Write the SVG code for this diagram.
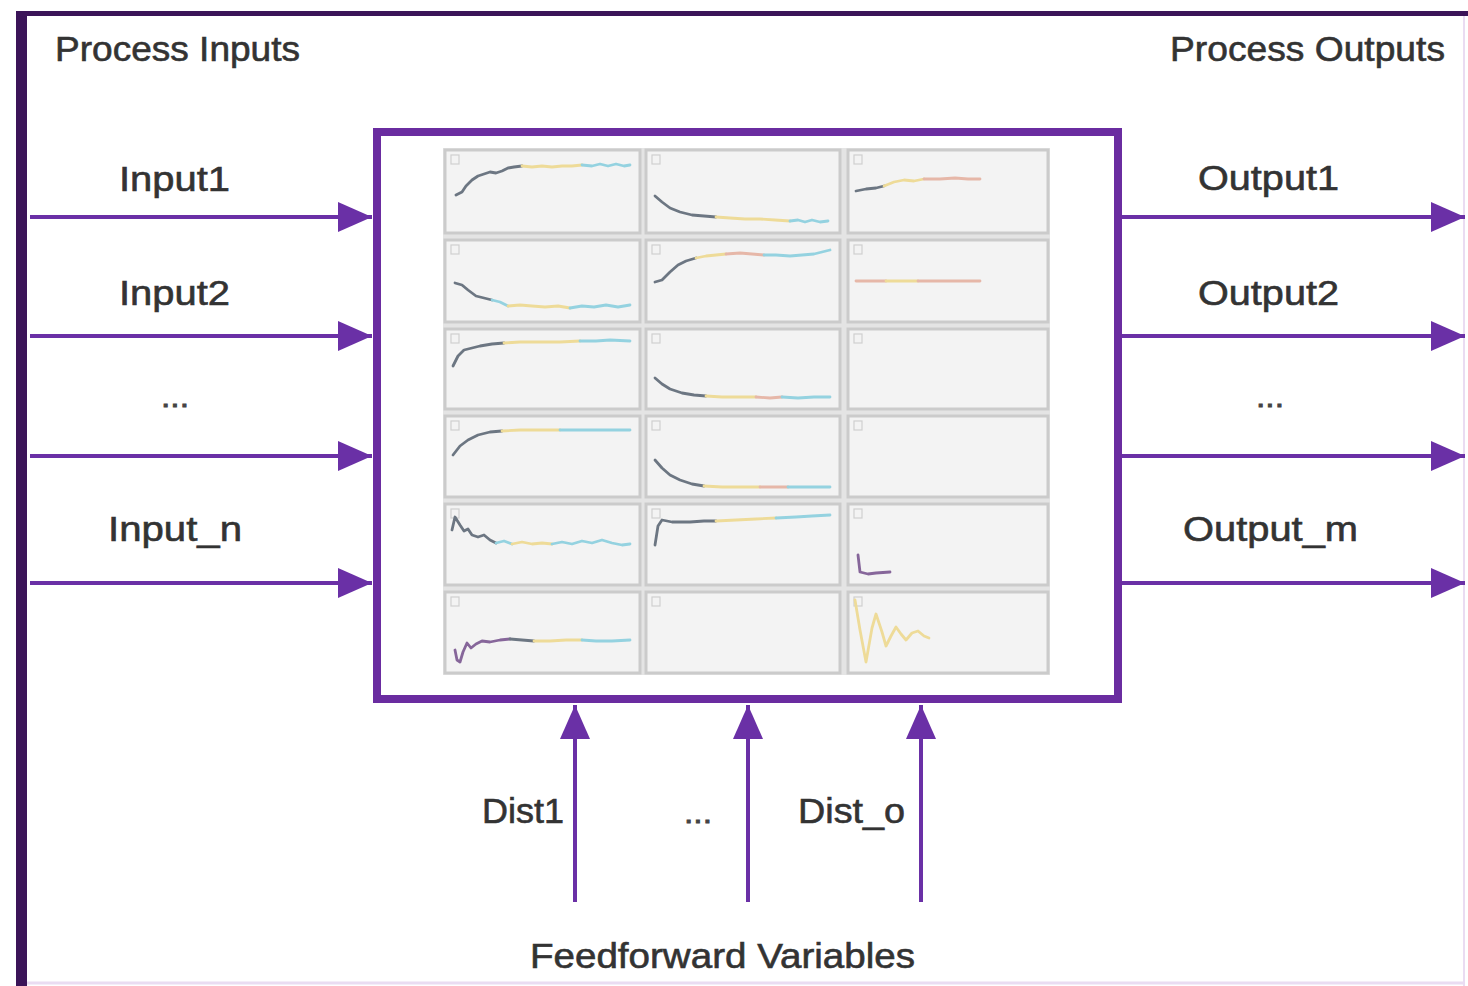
<svg xmlns="http://www.w3.org/2000/svg" width="1468" height="986" viewBox="0 0 1468 986">
<style>
.lbl{font-family:"Liberation Sans",Arial,sans-serif;font-size:35px;fill:#333333;stroke:#333333;stroke-width:0.6px;}
.dots{font-family:"Liberation Sans",Arial,sans-serif;font-size:28px;fill:#444;stroke:#444;stroke-width:0.8px;}
.conn{stroke:#6a30a6;stroke-width:4;fill:none;}
.cell{fill:#f3f3f3;stroke:#cbcbcb;stroke-width:3;}
.tag{fill:none;stroke:#d0d0d0;stroke-width:1.2;}
.c{fill:none;stroke-width:2.8;stroke-linejoin:round;stroke-linecap:round;}
.g{stroke:#6c7682;}
.y{stroke:#eedb98;}
.p{stroke:#e6b7a8;}
.b{stroke:#94d2e0;}
.m{stroke:#86669a;}
</style>
<defs>
<marker id="ah" markerUnits="userSpaceOnUse" markerWidth="34" markerHeight="30" refX="34" refY="15" orient="auto">
<path d="M0,0 L34,15 L0,30 Z" fill="#6a30a6"/>
</marker>
</defs>
<rect x="0" y="0" width="1468" height="986" fill="#ffffff"/>
<g id="frame">
<rect x="16" y="11" width="11" height="975" fill="#3b1458"/>
<rect x="16" y="11" width="1452" height="5" fill="#3b1458"/>
<line x1="1464" y1="16" x2="1464" y2="986" stroke="#eadcf2" stroke-width="2"/>
<line x1="27" y1="983" x2="1464" y2="983" stroke="#eadcf2" stroke-width="3"/>
</g>
<g id="section-labels">
<text class="lbl" x="55" y="61" textLength="245" lengthAdjust="spacingAndGlyphs">Process Inputs</text>
<text class="lbl" x="1170" y="61" textLength="275" lengthAdjust="spacingAndGlyphs">Process Outputs</text>
<text class="lbl" x="530" y="968" textLength="385" lengthAdjust="spacingAndGlyphs">Feedforward Variables</text>
</g>
<g id="process">
<rect x="377" y="132" width="741" height="567" fill="#ffffff" stroke="#6a2ca0" stroke-width="8"/>
<rect x="443" y="148" width="607" height="527" fill="#e4e4e4"/>
<rect class="cell" x="445" y="150" width="195" height="83"/>
<rect class="cell" x="646" y="150" width="194" height="83"/>
<rect class="cell" x="848" y="150" width="200" height="83"/>
<rect class="cell" x="445" y="240" width="195" height="82"/>
<rect class="cell" x="646" y="240" width="194" height="82"/>
<rect class="cell" x="848" y="240" width="200" height="82"/>
<rect class="cell" x="445" y="329" width="195" height="80"/>
<rect class="cell" x="646" y="329" width="194" height="80"/>
<rect class="cell" x="848" y="329" width="200" height="80"/>
<rect class="cell" x="445" y="416" width="195" height="81"/>
<rect class="cell" x="646" y="416" width="194" height="81"/>
<rect class="cell" x="848" y="416" width="200" height="81"/>
<rect class="cell" x="445" y="504" width="195" height="81"/>
<rect class="cell" x="646" y="504" width="194" height="81"/>
<rect class="cell" x="848" y="504" width="200" height="81"/>
<rect class="cell" x="445" y="592" width="195" height="81"/>
<rect class="cell" x="646" y="592" width="194" height="81"/>
<rect class="cell" x="848" y="592" width="200" height="81"/>
<g>
<rect class="tag" x="451" y="155" width="8" height="9"/><rect class="tag" x="652" y="155" width="8" height="9"/><rect class="tag" x="854" y="155" width="8" height="9"/>
<rect class="tag" x="451" y="245" width="8" height="9"/><rect class="tag" x="652" y="245" width="8" height="9"/><rect class="tag" x="854" y="245" width="8" height="9"/>
<rect class="tag" x="451" y="334" width="8" height="9"/><rect class="tag" x="652" y="334" width="8" height="9"/><rect class="tag" x="854" y="334" width="8" height="9"/>
<rect class="tag" x="451" y="421" width="8" height="9"/><rect class="tag" x="652" y="421" width="8" height="9"/><rect class="tag" x="854" y="421" width="8" height="9"/>
<rect class="tag" x="451" y="509" width="8" height="9"/><rect class="tag" x="652" y="509" width="8" height="9"/><rect class="tag" x="854" y="509" width="8" height="9"/>
<rect class="tag" x="451" y="597" width="8" height="9"/><rect class="tag" x="652" y="597" width="8" height="9"/><rect class="tag" x="854" y="597" width="8" height="9"/>
</g>
<!-- row 1 -->
<polyline class="c g" points="456,195 462,192 466,186 472,180 478,176 484,174 490,172 496,173 502,171 508,168 514,167 522,166"/>
<polyline class="c y" points="522,166 532,167 542,166 552,167 562,166 572,166 582,165"/>
<polyline class="c b" points="582,165 592,166 600,164 608,166 616,164 624,166 630,165"/>
<polyline class="c g" points="655,196 662,202 670,208 680,212 692,215 704,216 716,217"/>
<polyline class="c y" points="716,217 730,218 745,219 760,219 775,220 790,221"/>
<polyline class="c b" points="790,221 798,220 805,222 812,220 820,222 828,221"/>
<polyline class="c g" points="856,191 866,189 876,188 884,186"/>
<polyline class="c y" points="884,186 894,182 904,180 914,181 924,179"/>
<polyline class="c p" points="924,179 940,179 955,178 968,179 980,179"/>
<!-- row 2 -->
<polyline class="c g" points="455,283 462,285 468,290 476,296 484,298 492,300"/>
<polyline class="c b" points="492,300 500,302 508,306"/>
<polyline class="c y" points="508,306 520,305 532,306 545,307 558,306 570,308"/>
<polyline class="c b" points="570,308 582,306 594,307 606,305 618,307 630,305"/>
<polyline class="c g" points="655,282 662,280 670,272 678,265 686,261 696,258"/>
<polyline class="c y" points="696,258 706,256 716,255 726,254"/>
<polyline class="c p" points="726,254 740,253 752,254 764,255"/>
<polyline class="c b" points="764,255 776,255 790,256 802,255 814,254 822,252 830,250"/>
<polyline class="c p" points="856,281 886,281"/>
<polyline class="c y" points="886,281 918,281"/>
<polyline class="c p" points="918,281 980,281"/>
<!-- row 3 -->
<polyline class="c g" points="453,366 458,356 464,350 472,348 480,346 492,344 504,343"/>
<polyline class="c y" points="504,343 520,342 540,342 560,342 580,341"/>
<polyline class="c b" points="580,341 596,341 610,340 630,341"/>
<polyline class="c g" points="655,378 662,384 670,389 682,393 694,395 706,396"/>
<polyline class="c y" points="706,396 722,397 740,397 756,397"/>
<polyline class="c p" points="756,397 770,398 782,397"/>
<polyline class="c b" points="782,397 798,398 814,397 830,397"/>
<!-- row 4 -->
<polyline class="c g" points="453,455 460,446 468,440 478,435 490,432 502,431"/>
<polyline class="c y" points="502,431 520,430 540,430 560,430"/>
<polyline class="c b" points="560,430 580,430 600,430 630,430"/>
<polyline class="c g" points="655,460 662,468 670,475 680,480 692,484 704,486"/>
<polyline class="c y" points="704,486 722,487 742,487 760,487"/>
<polyline class="c p" points="760,487 775,487 788,487"/>
<polyline class="c b" points="788,487 808,487 830,487"/>
<!-- row 5 -->
<polyline class="c g" points="452,530 455,517 460,525 464,531 468,529 472,535 478,537 484,535 490,540 496,543"/>
<polyline class="c b" points="496,543 504,541 512,544"/>
<polyline class="c y" points="512,544 522,542 532,544 542,543 552,544"/>
<polyline class="c b" points="552,544 562,542 572,544 582,541 592,543 602,540 612,543 622,545 630,544"/>
<polyline class="c g" points="655,545 658,526 662,520 672,522 690,522 704,521 716,521"/>
<polyline class="c y" points="716,521 736,520 756,519 776,518"/>
<polyline class="c b" points="776,518 796,517 812,516 830,515"/>
<polyline class="c m" points="858,555 860,572 868,574 876,573 890,572"/>
<!-- row 6 -->
<polyline class="c m" points="455,650 457,660 460,662 463,652 467,643 471,648 476,644 482,641 490,642 500,640 510,639"/>
<polyline class="c g" points="510,639 522,640 534,641"/>
<polyline class="c y" points="534,641 550,641 566,640 582,640"/>
<polyline class="c b" points="582,640 596,641 612,641 630,640"/>
<polyline class="c y" points="855,600 860,630 866,662 872,628 876,614 882,632 886,646 891,636 896,627 901,634 906,640 912,633 918,631 924,636 929,638"/>
</g>
<g id="connectors">
<line class="conn" x1="30" y1="217" x2="372" y2="217" marker-end="url(#ah)"/>
<line class="conn" x1="30" y1="336" x2="372" y2="336" marker-end="url(#ah)"/>
<line class="conn" x1="30" y1="456" x2="372" y2="456" marker-end="url(#ah)"/>
<line class="conn" x1="30" y1="583" x2="372" y2="583" marker-end="url(#ah)"/>
<line class="conn" x1="1122" y1="217" x2="1465" y2="217" marker-end="url(#ah)"/>
<line class="conn" x1="1122" y1="336" x2="1465" y2="336" marker-end="url(#ah)"/>
<line class="conn" x1="1122" y1="456" x2="1465" y2="456" marker-end="url(#ah)"/>
<line class="conn" x1="1122" y1="583" x2="1465" y2="583" marker-end="url(#ah)"/>
<line class="conn" x1="575" y1="902" x2="575" y2="705" marker-end="url(#ah)"/>
<line class="conn" x1="748" y1="902" x2="748" y2="705" marker-end="url(#ah)"/>
<line class="conn" x1="921" y1="902" x2="921" y2="705" marker-end="url(#ah)"/>
</g>
<g id="input-labels">
<text class="lbl" x="119" y="191" textLength="111" lengthAdjust="spacingAndGlyphs">Input1</text>
<text class="lbl" x="119" y="305" textLength="111" lengthAdjust="spacingAndGlyphs">Input2</text>
<text class="dots" x="161" y="407" textLength="28" lengthAdjust="spacingAndGlyphs">...</text>
<text class="lbl" x="108" y="541" textLength="134" lengthAdjust="spacingAndGlyphs">Input_n</text>
</g>
<g id="output-labels">
<text class="lbl" x="1198" y="190" textLength="141" lengthAdjust="spacingAndGlyphs">Output1</text>
<text class="lbl" x="1198" y="305" textLength="141" lengthAdjust="spacingAndGlyphs">Output2</text>
<text class="dots" x="1256" y="407" textLength="28" lengthAdjust="spacingAndGlyphs">...</text>
<text class="lbl" x="1183" y="541" textLength="175" lengthAdjust="spacingAndGlyphs">Output_m</text>
</g>
<g id="dist-labels">
<text class="lbl" x="482" y="823" textLength="82" lengthAdjust="spacingAndGlyphs">Dist1</text>
<text class="dots" x="684" y="823" textLength="28" lengthAdjust="spacingAndGlyphs">...</text>
<text class="lbl" x="798" y="823" textLength="107" lengthAdjust="spacingAndGlyphs">Dist_o</text>
</g>
</svg>
